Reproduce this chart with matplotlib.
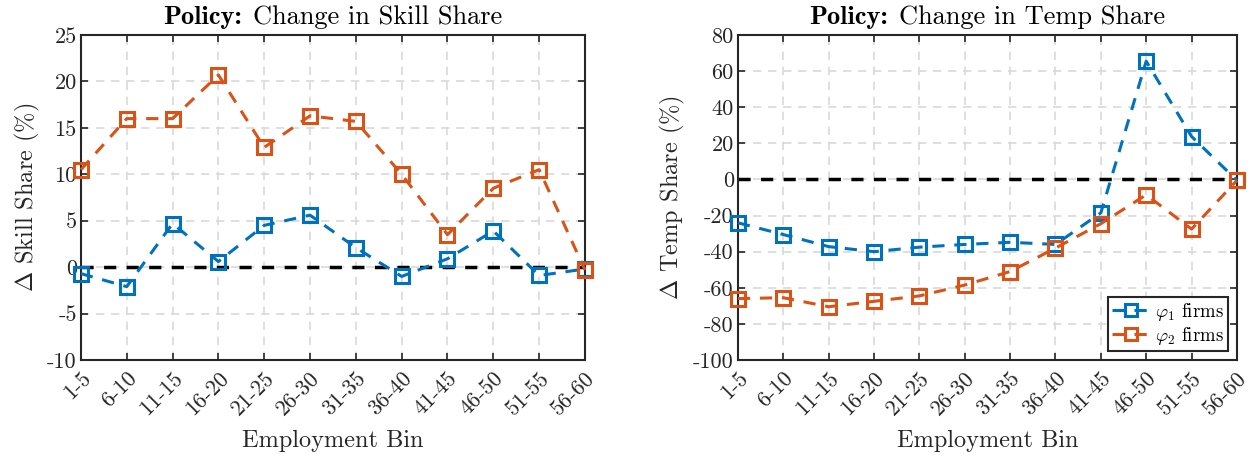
#!/usr/bin/env python3

import matplotlib
matplotlib.use("Agg")
import matplotlib.pyplot as plt
from matplotlib.ticker import MultipleLocator
from matplotlib.transforms import offset_copy

# ---- Data ----
BINS = ["1-5", "6-10", "11-15", "16-20", "21-25", "26-30",
        "31-35", "36-40", "41-45", "46-50", "51-55", "56-60"]

SKILL_PHI1 = [-0.7, -2.1, 4.7, 0.6, 4.5, 5.6, 2.1, -1.0, 0.9, 3.9, -0.9, -0.2]
SKILL_PHI2 = [10.5, 16.0, 16.0, 20.7, 12.9, 16.3, 15.7, 10.0, 3.5, 8.5, 10.5, -0.3]

TEMP_PHI1 = [-24.0, -30.5, -37.2, -40.0, -37.5, -36.0, -34.8, -36.0, -18.5, 65.5, 23.8, -0.5]
TEMP_PHI2 = [-66.0, -65.5, -70.5, -67.5, -64.5, -58.5, -51.0, -38.0, -24.5, -8.5, -27.5, -0.5]

BLUE = "#0072BD"
ORANGE = "#D95319"
DARK = "#262626"

# ---- Style ----
plt.rcParams["font.family"] = "cmr10"
plt.rcParams["mathtext.fontset"] = "cm"
plt.rcParams["axes.unicode_minus"] = False

TICK_FS = 16
LABEL_FS = 17.5
TITLE_FS = 19


def style_axes(ax, ylim, ystep):
    ax.set_xlim(0, len(BINS) - 1)
    ax.set_ylim(*ylim)
    ax.yaxis.set_major_locator(MultipleLocator(ystep))
    ax.set_xticks(range(len(BINS)))
    ax.set_xticklabels(BINS, rotation=45, ha="right", va="top",
                       rotation_mode="anchor")
    ax.tick_params(axis="both", direction="in", top=True, right=True,
                   length=5, width=1.2, colors=DARK, labelsize=TICK_FS)
    ax.tick_params(axis="x", pad=6)
    ax.tick_params(axis="y", pad=3)
    for s in ax.spines.values():
        s.set_color(DARK)
        s.set_linewidth(1.5)
    ax.grid(True, color="#d9d9d9", linestyle=(0, (5, 4)), linewidth=1.2)
    ax.set_axisbelow(True)
    ax.axhline(0, color="black", linestyle=(0, (3.5, 3)), linewidth=2.5, zorder=2)
    ax.set_xlabel("Employment Bin", fontsize=LABEL_FS, color=DARK, labelpad=8)


def plot_series(ax, y, color, label):
    ax.plot(range(len(BINS)), y, linestyle=(0, (4, 3.2)), linewidth=2.2,
            color=color, marker="s", markersize=10, markerfacecolor="none",
            markeredgewidth=2.2, label=label, zorder=3, clip_on=False)


def set_title(ax, rest, gap=11):
    """Bold 'Policy:' followed by a regular-weight title, centred over the axes."""
    fig = ax.figure
    r = fig.canvas.get_renderer()
    y = 1 + gap / ax.get_window_extent(r).height
    bold = ax.text(0.5, y, "Policy:", family="cmb10", fontsize=TITLE_FS,
                   transform=ax.transAxes, ha="left", va="baseline")
    plain = ax.text(0.5, y, rest, fontsize=TITLE_FS,
                    transform=ax.transAxes, ha="left", va="baseline")
    space = 11
    w1 = bold.get_window_extent(r).width
    w2 = plain.get_window_extent(r).width
    start = -(w1 + space + w2) / 2
    bold.set_transform(offset_copy(ax.transAxes, fig=fig, x=start, units="dots"))
    plain.set_transform(offset_copy(ax.transAxes, fig=fig,
                                    x=start + w1 + space, units="dots"))


fig = plt.figure(figsize=(12.55, 4.57), dpi=100)
ax1 = fig.add_axes([0.0645, 0.2123, 0.4016, 0.711])
ax2 = fig.add_axes([0.588, 0.2123, 0.3976, 0.711])

# Left panel: skill share
style_axes(ax1, (-10, 25), 5)
plot_series(ax1, SKILL_PHI1, BLUE, r"$\varphi_1$ firms")
plot_series(ax1, SKILL_PHI2, ORANGE, r"$\varphi_2$ firms")
ax1.set_ylabel(r"$\Delta$ Skill Share (%)", fontsize=LABEL_FS, color=DARK, labelpad=4)
set_title(ax1, "Change in Skill Share")

# Right panel: temp share
style_axes(ax2, (-100, 80), 20)
plot_series(ax2, TEMP_PHI1, BLUE, r"$\varphi_1$ firms")
plot_series(ax2, TEMP_PHI2, ORANGE, r"$\varphi_2$ firms")
ax2.set_ylabel(r"$\Delta$ Temp Share (%)", fontsize=LABEL_FS, color=DARK, labelpad=4)
set_title(ax2, "Change in Temp Share")

leg = ax2.legend(loc="lower right", fontsize=13.5, frameon=True, fancybox=False,
                 handlelength=2.0, handletextpad=0.3, borderpad=0.2,
                 labelspacing=0.1, borderaxespad=0.5, markerscale=0.8)
leg.get_frame().set_edgecolor(DARK)
leg.get_frame().set_linewidth(1.5)
leg.get_frame().set_alpha(1.0)

fig.savefig("out.png", dpi=100)
